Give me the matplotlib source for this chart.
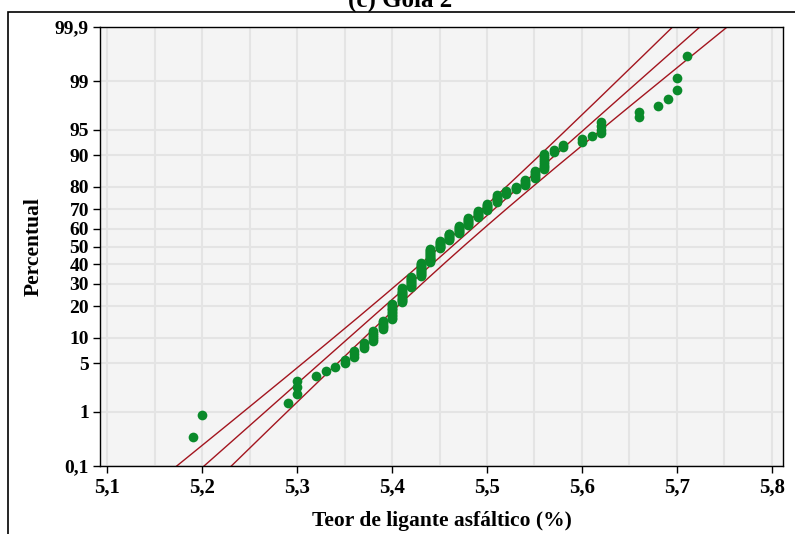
from statistics import NormalDist
import numpy as np
import matplotlib
matplotlib.use('Agg')
import matplotlib.pyplot as plt
from matplotlib.patches import Rectangle

# distinct values of teor de ligante and how many samples share each one
teor = [5.19, 5.20, 5.29, 5.30, 5.32, 5.33, 5.34, 5.35, 5.36, 5.37,
        5.38, 5.39, 5.40, 5.41, 5.42, 5.43, 5.44, 5.45, 5.46, 5.47,
        5.48, 5.49, 5.50, 5.51, 5.52, 5.53, 5.54, 5.55, 5.56, 5.57,
        5.58, 5.60, 5.61, 5.62, 5.66, 5.68, 5.69, 5.70, 5.71]
contagem = [1, 1, 1, 3, 1, 1, 1, 2, 3, 3,
            6, 6, 12, 13, 11, 14, 15, 9, 8, 8,
            8, 7, 7, 7, 4, 3, 5, 6, 9, 2,
            2, 2, 1, 4, 2, 1, 1, 2, 1]

x_ticks = [5.1, 5.2, 5.3, 5.4, 5.5, 5.6, 5.7, 5.8]
y_ticks = [0.1, 1, 5, 10, 20, 30, 40, 50, 60, 70, 80, 90, 95, 99, 99.9]

nd = NormalDist()


def probit(pct):
    return nd.inv_cdf(pct / 100.0)


def fmt(v):
    s = ('%g' % v)
    return s.replace('.', ',')


# probability plot positions (median ranks)
valores = np.repeat(teor, contagem)
n = len(valores)
rank = np.arange(1, n + 1)
p = (rank - 0.3) / (n + 0.4)
z = np.array([nd.inv_cdf(v) for v in p])

mu = valores.mean()
sd = valores.std(ddof=1)
zz = np.linspace(-3.4, 3.4, 300)
fit = mu + sd * zz
half = 1.96 * sd * np.sqrt(1.0 / n + zz ** 2 / (2 * (n - 1)))

plt.rcParams['font.family'] = ['Liberation Serif', 'DejaVu Serif']
plt.rcParams['font.weight'] = 'bold'

fig = plt.figure(figsize=(7.95, 5.34), dpi=100)
ax = fig.add_axes([100 / 795, 1 - 466 / 534, 683 / 795, 439 / 534])
ax.set_facecolor('#f4f4f4')

red = '#a3151f'
ax.plot(fit, zz, color=red, lw=1.0, zorder=2)
ax.plot(fit - half, zz, color=red, lw=1.0, zorder=2)
ax.plot(fit + half, zz, color=red, lw=1.0, zorder=2)
ax.plot(valores, z, 'o', color='#0a8a2a', markersize=7, markeredgewidth=0, zorder=3)

ztop = probit(99.9)
ax.set_ylim(-ztop, ztop)
ax.set_xlim(5.1 - 7 / 950, 5.8 + 11 / 950)

ax.set_xticks(x_ticks)
ax.set_xticklabels([fmt(v) for v in x_ticks])
ax.set_xticks(np.arange(5.15, 5.8, 0.1), minor=True)
ax.set_yticks([probit(v) for v in y_ticks])
ax.set_yticklabels([fmt(v) for v in y_ticks])

ax.grid(True, which='both', color='#e4e4e4', lw=1.5, zorder=0)
ax.set_axisbelow(True)
ax.tick_params(axis='x', which='major', length=5, width=1, labelsize=15, pad=3)
ax.tick_params(axis='y', which='major', length=5, width=1, labelsize=14, pad=3)
ax.tick_params(axis='x', which='minor', length=0)
for sp in ax.spines.values():
    sp.set_linewidth(1.0)

ax.set_xlabel('Teor de ligante asfáltico (%)', fontsize=15.5, fontweight='bold', labelpad=10)
ax.set_ylabel('Percentual', fontsize=15.5, fontweight='bold', labelpad=8)

fig.patches.append(Rectangle((8 / 795, -0.05), 1.0, 1 - 12 / 534 + 0.05,
                             transform=fig.transFigure, fill=False,
                             edgecolor='black', lw=1.2))
fig.text(400 / 795, 1 - 7 / 534, '(c) Gola 2', ha='center', va='baseline',
         fontsize=18, fontweight='bold')

fig.savefig('out.png', dpi=100)
